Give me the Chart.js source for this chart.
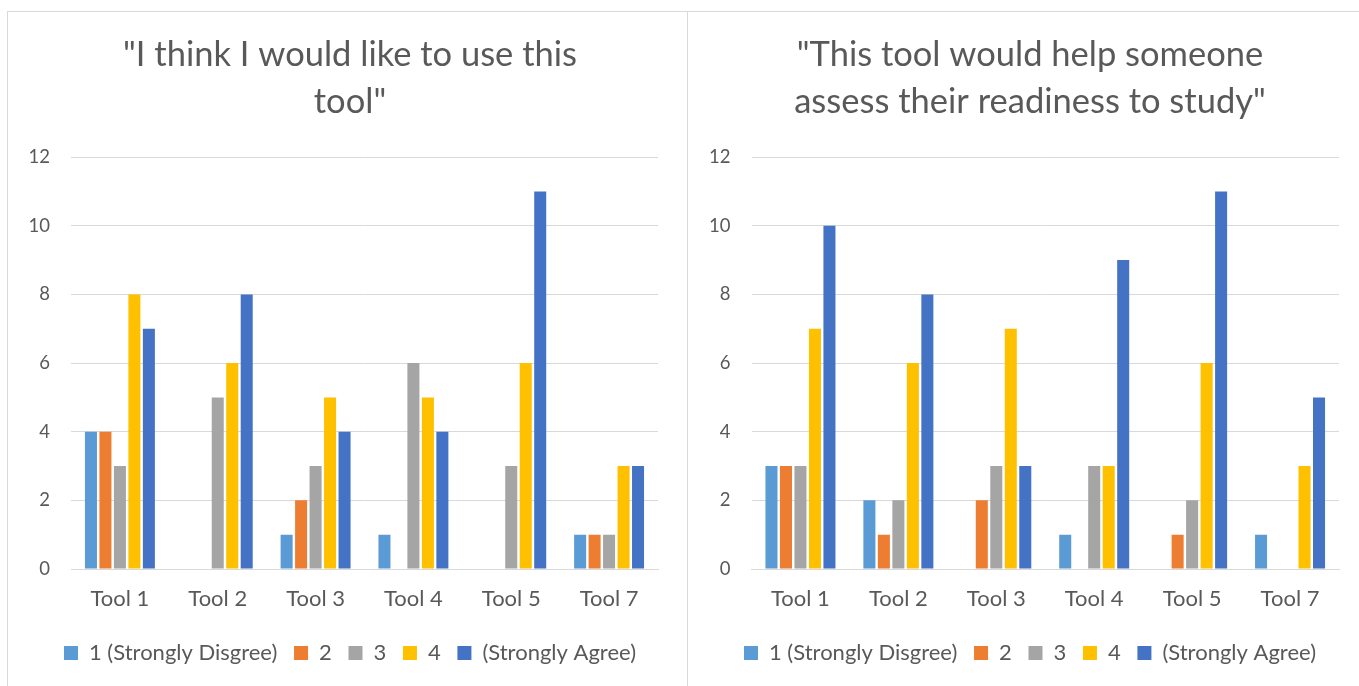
<!DOCTYPE html>
<html>
<head>
<meta charset="utf-8">
<script src="https://cdn.jsdelivr.net/npm/chart.js@4.4.1/dist/chart.umd.min.js"></script>
<style>
  html, body { margin: 0; padding: 0; background: #ffffff; }
  body { width: 1359px; height: 686px; position: relative; overflow: hidden; }
  .panel { position: absolute; top: 11px; height: 690px; border-top: 1px solid #d9d9d9; border-left: 1px solid #d9d9d9; box-sizing: border-box; }
  #leftPanel { left: 7px; width: 681px; }
  #rightPanel { left: 687px; width: 680px; }
  .panel canvas { position: absolute; left: 0; top: 0; }
</style>
</head>
<body>
<div class="panel" id="leftPanel"><canvas id="chartLike" width="679" height="675"></canvas></div>
<div class="panel" id="rightPanel"><canvas id="chartReady" width="671" height="675"></canvas></div>
<script>
// Survey responses per tool, counted by rating
const tools = ['Tool 1', 'Tool 2', 'Tool 3', 'Tool 4', 'Tool 5', 'Tool 7'];
const ratingLabels = ['1 (Strongly Disgree)', '2', '3', '4', '(Strongly Agree)'];
const ratingColors = ['#5B9BD5', '#ED7D31', '#A5A5A5', '#FFC000', '#4472C4'];
const yTicks = [0, 2, 4, 6, 8, 10, 12];

// "I think I would like to use this tool"
const likeRating1 = [4, 0, 1, 1, 0, 1];
const likeRating2 = [4, 0, 2, 0, 0, 1];
const likeRating3 = [3, 5, 3, 6, 3, 1];
const likeRating4 = [8, 6, 5, 5, 6, 3];
const likeRating5 = [7, 8, 4, 4, 11, 3];

// "This tool would help someone assess their readiness to study"
const readyRating1 = [3, 2, 0, 1, 0, 1];
const readyRating2 = [3, 1, 2, 0, 1, 0];
const readyRating3 = [3, 2, 3, 3, 2, 0];
const readyRating4 = [7, 6, 7, 3, 6, 3];
const readyRating5 = [10, 8, 3, 9, 11, 5];

const FONT = 'Lato';
const TEXT = '#595959';
const GRID = '#d9d9d9';

function buildChart(canvasId, titleLines, series, pad, axisWidth) {
  return new Chart(document.getElementById(canvasId), {
    type: 'bar',
    data: {
      labels: tools,
      datasets: series.map((values, i) => ({
        label: ratingLabels[i],
        data: values,
        backgroundColor: ratingColors[i],
        borderWidth: 0,
        categoryPercentage: 0.74,
        barPercentage: 0.83
      }))
    },
    options: {
      responsive: false,
      animation: false,
      devicePixelRatio: 1,
      layout: { padding: { left: pad.left, right: pad.right, top: 20, bottom: 13 } },
      plugins: {
        title: {
          display: true,
          text: titleLines,
          color: TEXT,
          font: { family: FONT, size: 34.5, weight: 'normal', lineHeight: 1.35 },
          padding: { top: 0, bottom: 32 }
        },
        legend: {
          position: 'bottom',
          labels: {
            color: TEXT,
            font: { family: FONT, size: 22 },
            boxWidth: 14,
            boxHeight: 14,
            padding: 16.7
          }
        },
        tooltip: { enabled: false }
      },
      scales: {
        x: {
          afterFit: (scale) => { scale.height = 56.3; },
          grid: { display: false, drawTicks: false },
          border: { display: true, color: GRID, width: 1 },
          ticks: { color: TEXT, font: { family: FONT, size: 22 }, padding: 16.5 }
        },
        y: {
          min: 0,
          max: 12,
          afterBuildTicks: (scale) => { scale.ticks = yTicks.map(v => ({ value: v })); },
          afterFit: (scale) => {
            scale.width = axisWidth;
            // the value labels sit partly in the layout padding, so they are not clipped to the axis box
            scale._computeLabelArea = () => undefined;
          },
          grid: { color: GRID, lineWidth: 1, drawTicks: false },
          border: { display: false },
          ticks: { color: TEXT, font: { family: FONT, size: 18.5 }, padding: 21 }
        }
      }
    }
  });
}

buildChart('chartLike', ['"I think I would like to use this', 'tool"'],
  [likeRating1, likeRating2, likeRating3, likeRating4, likeRating5],
  { left: 34, right: 29 }, 29);
buildChart('chartReady', ['"This tool would help someone', 'assess their readiness to study"'],
  [readyRating1, readyRating2, readyRating3, readyRating4, readyRating5],
  { left: 33, right: 20 }, 30.5);
</script>
</body>
</html>
